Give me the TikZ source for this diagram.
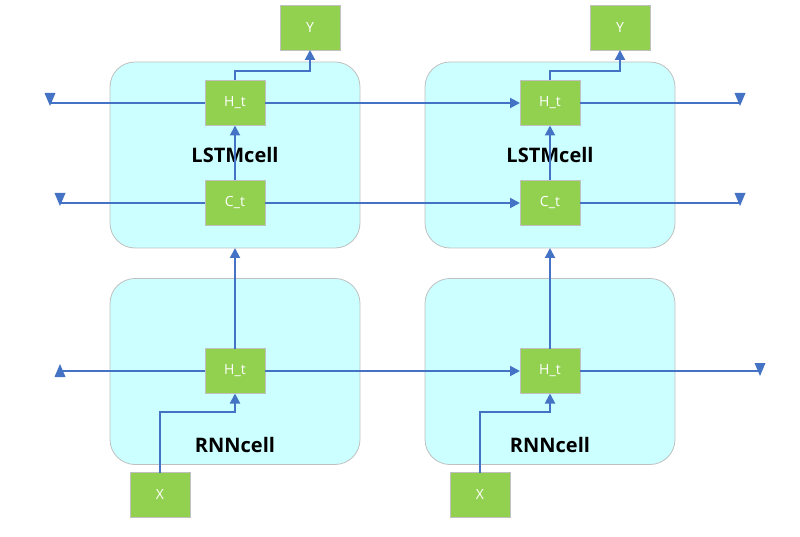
\documentclass[tikz,border=0pt]{standalone}
\usepackage{fontspec}
\setmainfont{Open Sans}
\usetikzlibrary{arrows.meta}
\definecolor{cellfill}{HTML}{CCFFFF}
\definecolor{cellborder}{HTML}{C0C0C0}
\definecolor{gbox}{HTML}{92D050}
\definecolor{wire}{HTML}{4472C4}
\begin{document}
\begin{tikzpicture}[x=1pt,y=-1pt,
  cellbox/.style={draw=cellborder,fill=cellfill,rounded corners=25pt,minimum width=250pt,minimum height=186pt,inner sep=0pt,outer sep=0pt,line width=0.8pt},
  gbox/.style={draw=cellborder,fill=gbox,minimum width=60pt,minimum height=45pt,inner sep=0pt,outer sep=0pt,text=white,font=\fontsize{14}{16}\selectfont,line width=0.8pt},
  celllabel/.style={font=\fontsize{20}{24}\selectfont\bfseries,inner sep=0pt},
  wire/.style={draw=wire,line width=2pt},
  arr/.style={wire,-{Triangle[length=10pt,width=10pt]}},
  tipfill/.style={fill=wire},
]
\useasboundingbox (0,0) rectangle (800,537);
% cells
\node[cellbox] (L1) at (235,155) {};
\node[cellbox] (L2) at (550,155) {};
\node[cellbox] (R1) at (235,371.5) {};
\node[cellbox] (R2) at (550,371.5) {};
\node[celllabel] (L1lab) at (235,155) {LSTMcell};
\node[celllabel] (L2lab) at (550,155) {LSTMcell};
\node[celllabel] (R1lab) at (235,445) {RNNcell};
\node[celllabel] (R2lab) at (550,445) {RNNcell};
% free ends
\coordinate (e1l) at (50,103);
\coordinate (e1r) at (740,103);
\coordinate (e2l) at (60,203);
\coordinate (e2r) at (740,203);
\coordinate (e3l) at (60,371);
\coordinate (e3r) at (760,371);
% wires behind boxes
\draw[wire] (e1l) -- (235,103);
\draw[wire] (e2l) -- (235,203);
\draw[wire] (e3l) -- (235,371);
% green boxes
\node[gbox] (Y1) at (310,27.5) {Y};
\node[gbox] (Y2) at (620,27.5) {Y};
\node[gbox] (H1) at (235,103) {H\_t};
\node[gbox] (H2) at (550,103) {H\_t};
\node[gbox] (C1) at (235,203) {C\_t};
\node[gbox] (C2) at (550,203) {C\_t};
\node[gbox] (S1) at (235,371) {H\_t};
\node[gbox] (S2) at (550,371) {H\_t};
\node[gbox] (X1) at (160,495) {X};
\node[gbox] (X2) at (480,495) {X};
% horizontal connectors
\draw[arr] (H1.east) -- (H2.west);
\draw[wire] (H2.east) -- (e1r);
\draw[arr] (C1.east) -- (C2.west);
\draw[wire] (C2.east) -- (e2r);
\draw[arr] (S1.east) -- (S2.west);
\draw[wire] (S2.east) -- (e3r);
% vertical connectors
\draw[arr] (C1.north) -- (H1.south);
\draw[arr] (C2.north) -- (H2.south);
\draw[arr] (S1.north) -- (L1.south);
\draw[arr] (S2.north) -- (L2.south);
\draw[arr] (H1.north) -- ++(0,-9) -| (Y1.south);
\draw[arr] (H2.north) -- ++(0,-9) -| (Y2.south);
\draw[arr] (X1.north) -- ++(0,-61) -| (S1.south);
\draw[arr] (X2.north) -- ++(0,-61) -| (S2.south);
% free-end triangles (shifts are in canvas units: positive yshift = up)
\fill[tipfill] ([xshift=-5.5pt,yshift=10pt]e1l) -- ([xshift=5.5pt,yshift=10pt]e1l) -- ([yshift=-3pt]e1l) -- cycle;
\fill[tipfill] ([xshift=-5.5pt,yshift=10pt]e1r) -- ([xshift=5.5pt,yshift=10pt]e1r) -- ([yshift=-3pt]e1r) -- cycle;
\fill[tipfill] ([xshift=-5.5pt,yshift=10pt]e2l) -- ([xshift=5.5pt,yshift=10pt]e2l) -- ([yshift=-3pt]e2l) -- cycle;
\fill[tipfill] ([xshift=-5.5pt,yshift=10pt]e2r) -- ([xshift=5.5pt,yshift=10pt]e2r) -- ([yshift=-3pt]e2r) -- cycle;
\fill[tipfill] ([xshift=-5.5pt,yshift=-6pt]e3l) -- ([xshift=5.5pt,yshift=-6pt]e3l) -- ([yshift=7pt]e3l) -- cycle;
\fill[tipfill] ([xshift=-5.5pt,yshift=8pt]e3r) -- ([xshift=5.5pt,yshift=8pt]e3r) -- ([yshift=-5pt]e3r) -- cycle;
\end{tikzpicture}
\end{document}
